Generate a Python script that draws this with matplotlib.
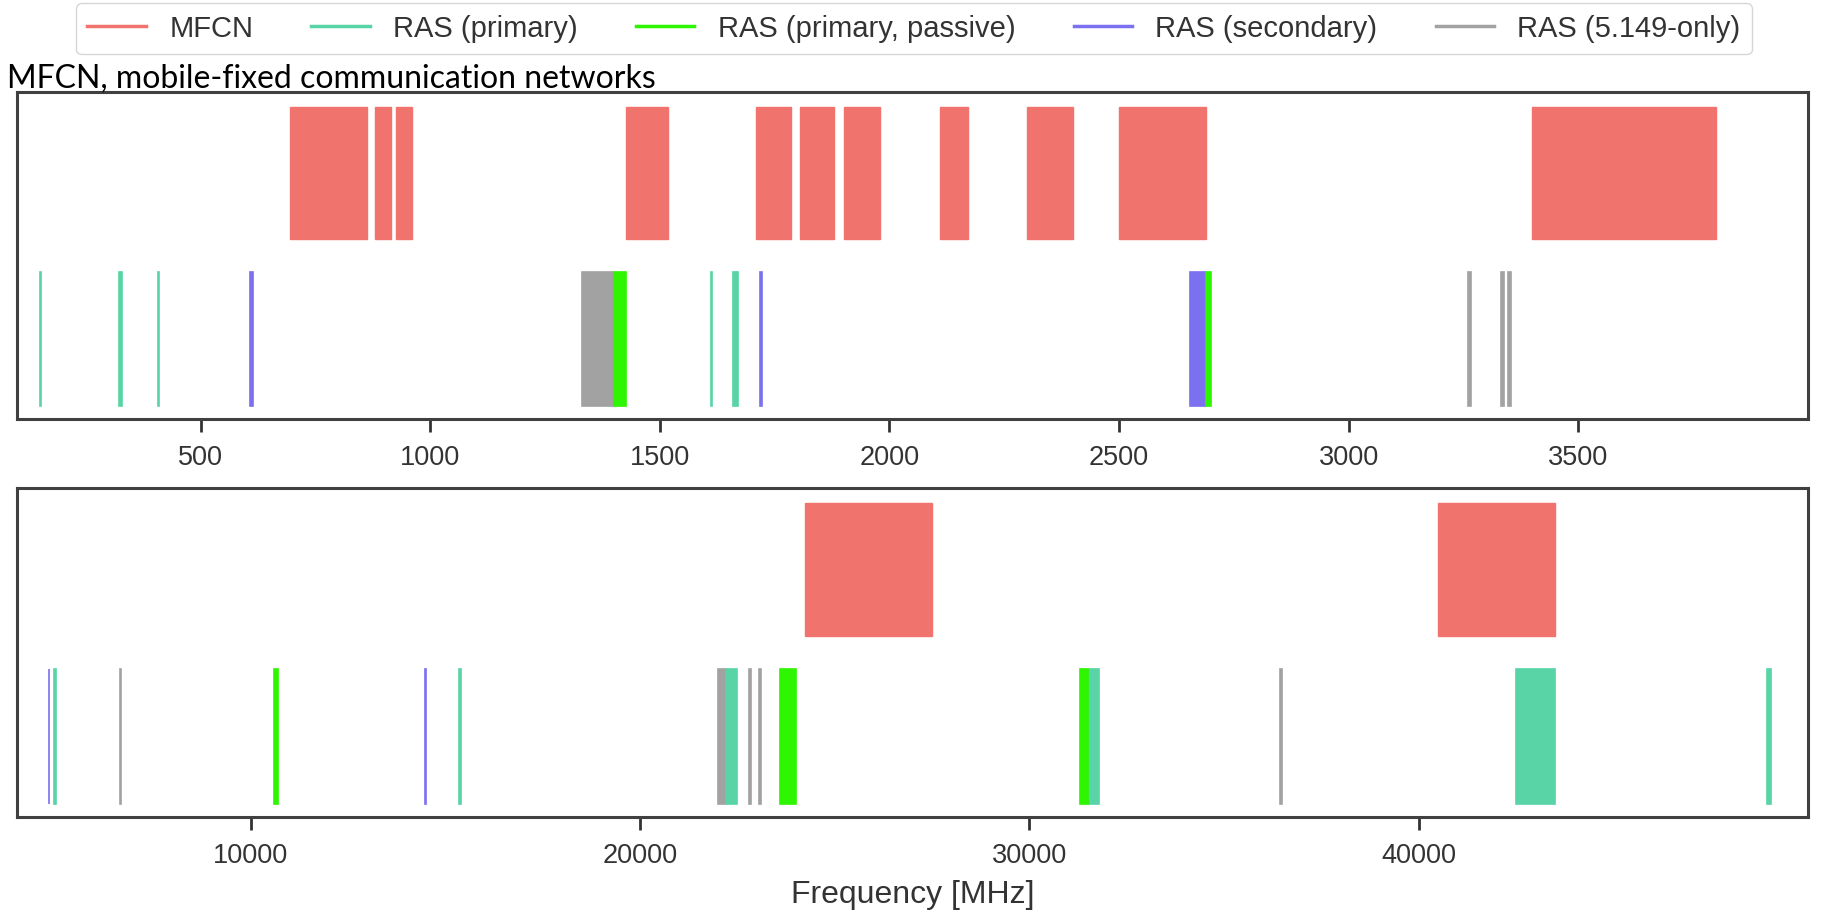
import matplotlib.pyplot as plt
from matplotlib.lines import Line2D

# frequency bands [MHz]
mfcn = [(694, 862), (880, 915), (925, 960), (1427, 1518), (1710, 1785),
        (1805, 1880), (1900, 1980), (2110, 2170), (2300, 2400), (2500, 2690),
        (3400, 3800), (24250, 27500), (40500, 43500)]
ras_primary = [(150.05, 153), (322, 328.6), (406.1, 410), (1610.6, 1613.8),
               (1660, 1670), (4950, 5000), (15350, 15400), (22210, 22500),
               (31500, 31800), (42500, 43500), (48940, 49040)]
ras_passive = [(1400, 1427), (2690, 2700), (10600, 10700), (23600, 24000),
               (31300, 31500)]
ras_secondary = [(608, 614), (1718.8, 1722.2), (2655, 2690), (4825, 4835),
                 (14470, 14500)]
ras_5149 = [(1330, 1400), (3260, 3267), (3332, 3339), (3345.8, 3352.5),
            (6650, 6675.2), (22010, 22210), (22810, 22860), (23070, 23120),
            (36430, 36500)]

names = ['MFCN', 'RAS (primary)', 'RAS (primary, passive)',
         'RAS (secondary)', 'RAS (5.149-only)']
colors = ['#f0736e', '#58d4a6', '#2ef500', '#7a70f0', '#a2a2a2']
xlims = [(100, 4000), (4000, 50000)]
xticks = [[500, 1000, 1500, 2000, 2500, 3000, 3500],
          [10000, 20000, 30000, 40000]]

plt.rcParams['font.family'] = ['Liberation Sans', 'DejaVu Sans']
txt = '#333333'

fig = plt.figure(figsize=(18.22, 9.24), dpi=100)
ax1 = fig.add_axes([0.0093, 0.5465, 0.983, 0.3539])
ax2 = fig.add_axes([0.0093, 0.1158, 0.983, 0.3561])

# draw order: 5.149, secondary, primary, passive
layers = [(ras_5149, colors[4]), (ras_secondary, colors[3]),
          (ras_primary, colors[1]), (ras_passive, colors[2])]

for ax, lim, ticks in zip([ax1, ax2], xlims, xticks):
    for lo, hi in mfcn:
        ax.axvspan(lo, hi, ymin=0.55, ymax=0.955, facecolor=colors[0],
                   edgecolor=colors[0], lw=1.0)
    for bands, c in layers:
        for lo, hi in bands:
            ax.axvspan(lo, hi, ymin=0.04, ymax=0.45, facecolor=c,
                       edgecolor=c, lw=1.2)
    ax.set_xlim(lim)
    ax.set_xticks(ticks)
    ax.set_yticks([])
    ax.tick_params(axis='x', length=9, width=2, color='#333333',
                   labelsize=19.5, labelcolor=txt, pad=9.5)
    for s in ax.spines.values():
        s.set_linewidth(2.2)
        s.set_color('#404040')

ax2.set_xlabel('Frequency [MHz]', fontsize=23, color=txt, labelpad=8)

handles = [Line2D([], [], color=c, lw=2.5) for c in colors]
fig.legend(handles, names, loc='upper center', ncol=5, fontsize=21,
           bbox_to_anchor=(914 / 1822, 1 - 3 / 924), borderaxespad=0,
           labelcolor=txt, columnspacing=2.0, handlelength=2.0)

fig.text(0.004, 1 - 88 / 924, 'MFCN, mobile-fixed communication networks',
         fontsize=23, family=['Lato', 'DejaVu Sans'], color='black',
         va='baseline', ha='left')

fig.savefig('out.png', dpi=100)
